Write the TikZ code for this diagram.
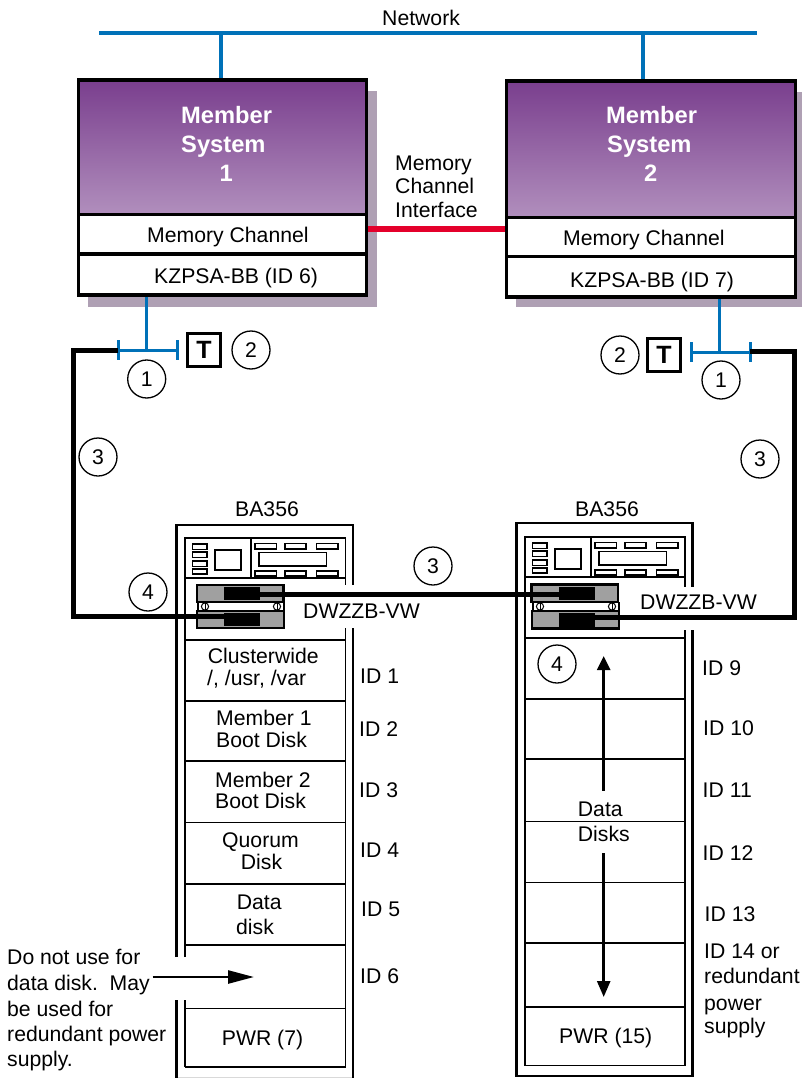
\documentclass[tikz,border=0pt]{standalone}
\usepackage{fontspec}
\setmainfont{Liberation Sans}
\usetikzlibrary{arrows.meta,calc}
\definecolor{netblue}{HTML}{0071B8}
\definecolor{linkred}{HTML}{E4002B}
\definecolor{shadowc}{HTML}{AFA0B4}
\definecolor{ptop}{HTML}{7A3F8E}
\definecolor{pbot}{HTML}{B18FBD}
\definecolor{ugray}{HTML}{A0A0A0}
\newcommand\fa{\fontsize{21.2}{24}\selectfont}
\newcommand\fb{\fontsize{23.7}{28}\selectfont\bfseries}
\tikzset{
  lbl/.style={anchor=base west,inner sep=0pt,font=\fa,text=black,yshift=-0.7pt},
  sysl/.style={anchor=base west,inner sep=0pt,font=\fb,text=white},
  circ/.style={circle,draw=black,line width=1.3pt,minimum size=38pt,inner sep=0pt,font=\fa},
  tbox/.style={rectangle,draw=black,line width=3pt,minimum size=33pt,inner sep=0pt,font=\fontsize{25}{28}\selectfont\bfseries},
  rowbox/.style={rectangle,draw=black,fill=white,line width=3.2pt,inner sep=0pt},
  net/.style={draw=netblue,line width=4.4pt},
  stub/.style={draw=netblue,line width=3pt},
  cable/.style={draw=black,line width=5pt,line join=miter},
  thin/.style={draw=black,line width=1.1pt},
  rackline/.style={draw=black,line width=2.8pt},
  inline/.style={draw=black,line width=1.5pt},
  arrowl/.style={draw=black,line width=2.6pt},
  unit/.style={rectangle,draw=black,fill=ugray,line width=2.2pt,inner sep=0pt},
  blk/.style={rectangle,fill=black,inner sep=0pt},
}
% front panel of a BA356, drawn at the left rack's position
\newcommand\frontpanel{%
  \draw[thin] (251,538) -- (251,578);
  \foreach \a/\b in {544/549.5,552/557.5,561/566.5,569/574}{\draw[thin] (192.7,\a) rectangle (207,\b);}
  \draw[thin] (215,550) rectangle (241,570);
  \foreach \a/\b in {255/276.7,285/306,316.7/338}{
    \draw[thin] (\a,543.5) rectangle (\b,549);
    \draw[thin] (\a,571) rectangle (\b,576);}
  \draw[thin] (259,552.7) rectangle (326.7,566);
}
\begin{document}
\begin{tikzpicture}[x=1pt,y=-1pt]
\useasboundingbox (0,0) rectangle (802,1078);
% network
\coordinate (netL) at (99,33);
\coordinate (netR) at (757,33);
\coordinate (netA) at (221,33);
\coordinate (netB) at (643,33);
\node[lbl] (netlabel) at (382,25) {Network};
% shadows
\fill[shadowc] (88,91) rectangle (377,307);
\fill[shadowc] (516,92) rectangle (802,307);
% system 1
\shade[top color=ptop,bottom color=pbot] (79,81) rectangle (366,215);
\node[rowbox,minimum width=288pt,minimum height=40pt,line width=2.4pt] (mc1) at (222.5,234.5) {};
\node[rowbox,minimum width=288pt,minimum height=41pt] (kz1) at (222.5,274.5) {};
\node[rectangle,draw=black,line width=3.6pt,minimum width=288pt,minimum height=215pt,inner sep=0pt] (sys1) at (222.3,187.5) {};
% system 2
\shade[top color=ptop,bottom color=pbot] (507,82) rectangle (795,218);
\node[rowbox,minimum width=289pt,minimum height=40pt,line width=2.4pt] (mc2) at (651,237.5) {};
\node[rowbox,minimum width=289pt,minimum height=41pt] (kz2) at (651,277) {};
\node[rectangle,draw=black,line width=3.6pt,minimum width=289pt,minimum height=216pt,inner sep=0pt] (sys2) at (651,189) {};
% connectors at top
\draw[net] (netL) -- (netR);
\draw[net] (netA) -- (netA |- sys1.north);
\draw[net] (netB) -- (netB |- sys2.north);
\draw[draw=linkred,line width=6pt] (mc1.east |- 0,229) -- (mc2.west |- 0,229);
% labels in system boxes
\node[sysl] (s1a) at (181,124) {Member};
\node[sysl] (s1b) at (181,153) {System};
\node[sysl] (s1c) at (219.5,182) {1};
\node[sysl] (s2a) at (606,124) {Member};
\node[sysl] (s2b) at (607,153) {System};
\node[sysl] (s2c) at (644,182) {2};
\node[lbl] (m1) at (147,241.7) {Memory Channel};
\node[lbl] (k1) at (154,282.7) {KZPSA-BB (ID 6)};
\node[lbl] (m2) at (563,245) {Memory Channel};
\node[lbl] (k2) at (570,287) {KZPSA-BB (ID 7)};
\node[lbl] (ifa) at (395,170) {Memory};
\node[lbl] (ifb) at (395,193) {Channel};
\node[lbl] (ifc) at (395,217) {Interface};
% terminators left
\coordinate (tL) at (146,350);
\coordinate (tL1) at (118,350);
\coordinate (tL2) at (177,350);
\draw[stub] (tL1) -- (tL2);
\draw[stub] (tL |- kz1.south) -- (tL);
\draw[stub] ($(tL1)+(0,-10)$) -- ($(tL1)+(0,10)$);
\draw[stub] ($(tL2)+(0,-10)$) -- ($(tL2)+(0,10)$);
\node[tbox] (T1) at (204,350) {T};
\node[circ] (c11) at (146.7,379) {1};
\node[circ] (c12) at (251,350) {2};
% terminators right
\coordinate (tR) at (719,352);
\coordinate (tR1) at (691,352);
\coordinate (tR2) at (750,352);
\draw[stub] (tR1) -- (tR2);
\draw[stub] (tR |- kz2.south) -- (tR);
\draw[stub] ($(tR1)+(0,-10)$) -- ($(tR1)+(0,10)$);
\draw[stub] ($(tR2)+(0,-10)$) -- ($(tR2)+(0,10)$);
\node[tbox] (T2) at (664,354.5) {T};
\node[circ] (c22) at (620,355) {2};
\node[circ] (c21) at (721,380) {1};
\node[circ] (c3a) at (98,457) {3};
\node[circ] (c3b) at (760,459) {3};
\node[circ] (c3c) at (433,566) {3};
\node[circ] (c4a) at (148,592) {4};
\node[circ] (c4b) at (557,664) {4};
% left rack
\draw[rackline] (176.5,1078) -- (176.5,1000);
\draw[rackline] (176.5,957) -- (176.5,525) -- (353,525) -- (353,585);
\draw[rackline] (353,628) -- (353,1078);
\draw[inline] (185,1067) -- (185,1000);
\draw[inline] (185,957) -- (185,538) -- (345.7,538) -- (345.7,585);
\draw[inline] (345.7,628) -- (345.7,1067) -- (185,1067);
\draw[draw=black!15,line width=1pt] (178,1077) -- (352,1077);
\foreach \y in {578,640,701,761,822.7,884,945,1008.7}{\draw[inline] (185,\y) -- (345.7,\y);}
\frontpanel
% right rack
\draw[rackline] (516.5,523) rectangle (692.7,1076);
\fill[white] (690,587) rectangle (696,630);
\draw[inline] (525,537) rectangle (685,1065.7);
\fill[white] (683,587) rectangle (687,630);
\foreach \y in {577,638,699,759,821.7,882.7,943,1007}{\draw[inline] (525,\y) -- (685,\y);}
\begin{scope}[shift={(340,-1)}]\frontpanel\end{scope}
% DWZZB left
\node[unit,minimum width=86.5pt,minimum height=17pt] (uL1) at (240.2,593.5) {};
\node[unit,minimum width=87pt,minimum height=17.3pt] (uL2) at (240.5,619.3) {};
\node[blk,minimum width=36pt,minimum height=13pt] (bL1) at (242,593.5) {};
\node[blk,minimum width=36pt,minimum height=13.5pt] (bL2) at (242,619.5) {};
\fill[black] (197,602) rectangle (199,611);
\fill[black] (282.5,602) rectangle (284.5,611);
\foreach \x in {205,277}{
  \draw[thin,line width=1pt] (\x,606.5) circle (3.6pt);
  \draw[thin,line width=1pt] (\x,603) -- (\x,610);}
% DWZZB right
\node[unit,minimum width=86.5pt,minimum height=17.5pt] (uR1) at (574.8,593.2) {};
\node[unit,minimum width=87pt,minimum height=17.5pt] (uR2) at (575.5,619.7) {};
\node[blk,minimum width=36pt,minimum height=13pt] (bR1) at (577,593.5) {};
\node[blk,minimum width=36pt,minimum height=13.5pt] (bR2) at (577,620) {};
\fill[black] (531.5,602) rectangle (533.5,611);
\fill[black] (617.5,602) rectangle (619.5,611);
\foreach \x in {540,612}{
  \draw[thin,line width=1pt] (\x,606.5) circle (3.6pt);
  \draw[thin,line width=1pt] (\x,603) -- (\x,610);}
% SCSI cables
\coordinate (cL1) at (73,350);
\coordinate (cL2) at (224,616.7);
\draw[cable] (tL1) -- (cL1) |- (cL2);
\coordinate (cM1) at (bL1.east |- 0,594);
\coordinate (cM2) at (bR1.west |- 0,594);
\draw[cable] (cM1) -- (cM2);
\coordinate (cR0) at (794,351);
\coordinate (cR1) at (595,617);
\draw[cable] (tR2 |- cR0) -- (cR0) |- (cR1);
% rack labels
\node[lbl] (ba1) at (235,515.5) {BA356};
\node[lbl] (ba2) at (575,515.5) {BA356};
\node[lbl] (dw1) at (303,618) {DWZZB-VW};
\node[lbl] (dw2) at (640,609) {DWZZB-VW};
\node[lbl] (d1a) at (207.7,663) {Clusterwide};
\node[lbl] (d1b) at (207,685) {/, /usr, /var};
\node[lbl] (d2a) at (216,725) {Member 1};
\node[lbl] (d2b) at (216,746.7) {Boot Disk};
\node[lbl] (d3a) at (215,786.7) {Member 2};
\node[lbl] (d3b) at (215,807.7) {Boot Disk};
\node[lbl] (d4a) at (222,847) {Quorum};
\node[lbl] (d4b) at (240.7,869) {Disk};
\node[lbl] (d5a) at (236.7,909) {Data};
\node[lbl] (d5b) at (236,934) {disk};
\node[lbl] (d7) at (221.7,1045) {PWR (7)};
\node[lbl] (i1) at (360,683) {ID 1};
\node[lbl] (i2) at (359,735.7) {ID 2};
\node[lbl] (i3) at (359,796.7) {ID 3};
\node[lbl] (i4) at (360,857) {ID 4};
\node[lbl] (i5) at (361,915.7) {ID 5};
\node[lbl] (i6) at (360,982.7) {ID 6};
\node[lbl] (i9) at (702,675) {ID 9};
\node[lbl] (i10) at (703,735) {ID 10};
\node[lbl] (i11) at (702.5,796.7) {ID 11};
\node[lbl] (i12) at (702.5,860) {ID 12};
\node[lbl] (i13) at (704.5,920.7) {ID 13};
\node[lbl] (i14) at (704,957.7) {ID 14 or};
\node[lbl] (i14b) at (704,983) {redundant};
\node[lbl] (i14c) at (704,1010) {power};
\node[lbl] (i14d) at (704,1033) {supply};
\node[lbl] (dd1) at (577.7,815.7) {Data};
\node[lbl] (dd2) at (577.7,840.7) {Disks};
\node[lbl] (d15) at (559,1042.7) {PWR (15)};
\node[lbl] (n1) at (7,964) {Do not use for};
\node[lbl] (n2) at (7,990) {data disk.\ \ May};
\node[lbl] (n3) at (7,1016) {be used for};
\node[lbl] (n4) at (7,1040.7) {redundant power};
\node[lbl] (n5) at (7,1066) {supply.};
% arrows
\coordinate (aS) at (152.7,977);
\coordinate (aE) at (254,977);
\draw[arrowl,-{Triangle[length=26pt,width=13pt]}] (aS) -- (aE);
\coordinate (uS) at (603.7,790.7);
\coordinate (uE) at (603.7,656);
\draw[arrowl,-{Triangle[length=14pt,width=13pt]}] (uS) -- (uE);
\coordinate (dS) at (603.7,853);
\coordinate (dE) at (603.7,997);
\draw[arrowl,-{Triangle[length=16pt,width=13pt]}] (dS) -- (dE);
\end{tikzpicture}
\end{document}
